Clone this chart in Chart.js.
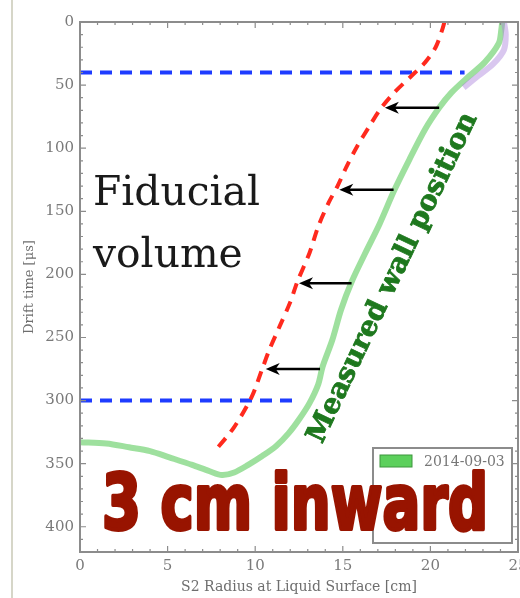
<!DOCTYPE html>
<html>
<head>
<meta charset="utf-8">
<script src="https://cdn.jsdelivr.net/npm/chart.js@4.4.0/dist/chart.umd.min.js"></script>
<style>
  html, body { margin: 0; padding: 0; background: #fff; overflow: hidden; }
  #wrap { position: relative; width: 520px; height: 598px; overflow: hidden; }
  #wrap canvas { position: absolute; left: 0; top: 0; }
  #edge { position: absolute; left: 11px; top: 0; width: 2px; height: 598px; background: #d6d6c8; }
</style>
</head>
<body>
<div id="wrap">
  <canvas id="chart" width="545" height="598"></canvas>
  <div id="edge"></div>
</div>
<script>
// Measured wall position (green band): S2 radius [cm] vs drift time [us]
const wallRadius = [0.0, 1.5, 2.8, 4.0, 5.1, 6.4, 7.4, 8.1, 8.8, 9.6, 10.4, 11.2, 11.9, 12.5, 13.1, 13.6, 13.85, 14.4, 14.9, 15.5, 16.25, 17.1, 17.95, 18.8, 19.7, 20.5, 21.2, 22.2, 23.1, 23.9, 24.05, 24.1];
const wallTime = [333, 334, 337, 340, 345, 351, 356, 359, 357, 351, 344, 336, 326, 315, 302, 287, 273, 252, 228, 206, 184, 160, 133, 109, 85, 68, 56, 43, 32, 17, 6, 0];

// other overlaid runs near the top of the wall (purple smear)
const otherRadius = [24.2, 24.3, 24.2, 23.6, 22.7, 21.9];
const otherTime = [0, 10, 22, 33, 43, 52];

// fiducial boundary, 3 cm inward of the wall (red dashed)
const fidRadius = [20.8, 20.7, 20.3, 19.7, 18.9, 18.0, 17.2, 16.5, 15.8, 15.2, 14.7, 14.2, 13.6, 13.1, 12.4, 12.0, 11.4, 10.8, 10.4, 9.8, 8.8, 7.7];
const fidTime = [0, 5, 20, 32, 43, 55, 68, 83, 99, 115, 130, 143, 162, 183, 206, 222, 241, 260, 275, 297, 321, 340];

// drift time cuts (blue dashed)
const cutTopRadius = [0, 21.95];
const cutTopTime = [40, 40];
const cutBottomRadius = [0, 12.5];
const cutBottomTime = [300, 300];

// arrows from wall to fiducial boundary
const arrowTime = [68, 133, 207, 275];
const arrowFrom = [20.5, 17.9, 15.5, 13.7];
const arrowTo = [17.4, 14.8, 12.5, 10.6];

const legendLabel = '2014-09-03';
const tickColor = '#7a7a7a';
const serif = "'DejaVu Serif', serif";

function toPoints(xs, ys) {
  return xs.map((x, i) => ({ x: x, y: ys[i] }));
}

function fitSize(ctx, text, weight, family, width) {
  ctx.font = `${weight} 100px ${family}`;
  return 100 * width / ctx.measureText(text).width;
}

// Frame, inward ticks, arrows, legend and annotations
const overlay = {
  id: 'overlay',
  afterDatasetsDraw(chart) {
    const ctx = chart.ctx;
    const xs = chart.scales.x;
    const ys = chart.scales.y;
    const a = chart.chartArea;
    ctx.save();

    // arrows
    ctx.strokeStyle = '#000';
    ctx.fillStyle = '#000';
    ctx.lineWidth = 2.5;
    arrowTime.forEach((t, i) => {
      const py = ys.getPixelForValue(t);
      const x0 = xs.getPixelForValue(arrowFrom[i]);
      const x1 = xs.getPixelForValue(arrowTo[i]);
      ctx.beginPath();
      ctx.moveTo(x0, py);
      ctx.lineTo(x1 + 8, py);
      ctx.stroke();
      ctx.beginPath();
      ctx.moveTo(x1, py);
      ctx.lineTo(x1 + 14, py - 6);
      ctx.lineTo(x1 + 10, py);
      ctx.lineTo(x1 + 14, py + 6);
      ctx.closePath();
      ctx.fill();
    });

    // frame
    ctx.strokeStyle = '#8c8c8c';
    ctx.lineWidth = 2;
    ctx.strokeRect(a.left, a.top, a.right - a.left, a.bottom - a.top);
    ctx.lineWidth = 1.2;
    ctx.beginPath();
    for (let v = 0; v <= 25; v++) {
      const px = xs.getPixelForValue(v);
      const len = v % 5 === 0 ? 6 : 3;
      ctx.moveTo(px, a.top); ctx.lineTo(px, a.top + len);
      ctx.moveTo(px, a.bottom); ctx.lineTo(px, a.bottom - len);
    }
    for (let v = 0; v <= 420; v += 10) {
      const py = ys.getPixelForValue(v);
      const len = v % 50 === 0 ? 6 : 3;
      ctx.moveTo(a.left, py); ctx.lineTo(a.left + len, py);
      ctx.moveTo(a.right, py); ctx.lineTo(a.right - len, py);
    }
    ctx.stroke();

    // Fiducial volume
    ctx.fillStyle = '#1a1a1a';
    ctx.textBaseline = 'alphabetic';
    ctx.textAlign = 'left';
    const fs = fitSize(ctx, 'Fiducial', 'normal', serif, 167);
    ctx.font = `normal ${fs}px ${serif}`;
    ctx.fillText('Fiducial', 93, 205);
    ctx.fillText('volume', 93, 267);

    // Measured wall position
    ctx.save();
    ctx.translate(393, 278);
    ctx.rotate(-64.6 * Math.PI / 180);
    const ms = fitSize(ctx, 'Measured wall position', 'bold', serif, 362);
    ctx.font = `bold ${ms}px ${serif}`;
    ctx.fillStyle = '#1e781e';
    ctx.strokeStyle = '#1e781e';
    ctx.lineWidth = 0.8;
    ctx.textAlign = 'center';
    ctx.textBaseline = 'middle';
    ctx.fillText('Measured wall position', 0, 0);
    ctx.strokeText('Measured wall position', 0, 0);
    ctx.restore();

    // legend box
    ctx.fillStyle = '#fff';
    ctx.fillRect(373, 448, 139, 95);
    ctx.strokeStyle = '#8c8c8c';
    ctx.lineWidth = 2;
    ctx.strokeRect(373, 448, 139, 95);
    ctx.fillStyle = '#5cd05c';
    ctx.fillRect(380, 455, 32, 12);
    ctx.strokeStyle = '#3c963c';
    ctx.lineWidth = 1;
    ctx.strokeRect(380, 455, 32, 12);
    ctx.fillStyle = '#777';
    ctx.font = `14px ${serif}`;
    ctx.textAlign = 'left';
    ctx.textBaseline = 'middle';
    ctx.fillText(legendLabel, 424, 462);

    // 3 cm inward
    ctx.save();
    ctx.font = `bold 76px 'DejaVu Sans', sans-serif`;
    const w = ctx.measureText('3 cm inward').width;
    ctx.translate(102, 529);
    ctx.scale(386 / w, 1);
    ctx.fillStyle = '#981400';
    ctx.strokeStyle = '#981400';
    ctx.lineWidth = 4;
    ctx.lineJoin = 'round';
    ctx.textAlign = 'left';
    ctx.textBaseline = 'alphabetic';
    ctx.fillText('3 cm inward', 0, 0);
    ctx.strokeText('3 cm inward', 0, 0);
    ctx.restore();

    ctx.restore();
  }
};

const noPoints = { pointRadius: 0, pointHoverRadius: 0, fill: false };

new Chart(document.getElementById('chart'), {
  type: 'line',
  data: {
    datasets: [
      { label: 'other', data: toPoints(otherRadius, otherTime), borderColor: 'rgba(170, 130, 220, 0.45)', borderWidth: 6, tension: 0.3, ...noPoints },
      { label: legendLabel, data: toPoints(wallRadius, wallTime), borderColor: 'rgba(125, 214, 125, 0.75)', borderWidth: 6, tension: 0.3, ...noPoints },
      { label: 'fiducial', data: toPoints(fidRadius, fidTime), borderColor: '#ff2a1e', borderWidth: 4, borderDash: [11, 8], tension: 0.3, ...noPoints },
      { label: 'cut top', data: toPoints(cutTopRadius, cutTopTime), borderColor: '#1e3cff', borderWidth: 4, borderDash: [12, 8], ...noPoints },
      { label: 'cut bottom', data: toPoints(cutBottomRadius, cutBottomTime), borderColor: '#1e3cff', borderWidth: 4, borderDash: [12, 8], ...noPoints }
    ]
  },
  options: {
    responsive: false,
    animation: false,
    layout: { padding: { top: 22, right: 27, left: 0, bottom: 0 } },
    plugins: {
      legend: { display: false },
      tooltip: { enabled: false }
    },
    scales: {
      x: {
        type: 'linear',
        min: 0,
        max: 25,
        grid: { display: false, drawTicks: false },
        border: { display: false },
        ticks: {
          stepSize: 5,
          padding: 5,
          maxRotation: 0,
          color: tickColor,
          font: { size: 15, family: serif }
        },
        title: {
          display: true,
          text: 'S2 Radius at Liquid Surface [cm]',
          color: '#6e6e6e',
          font: { size: 14, family: serif },
          padding: { top: 0, bottom: 2 }
        },
        afterFit: (scale) => { scale.height = 46; }
      },
      y: {
        type: 'linear',
        reverse: true,
        min: 0,
        max: 420,
        grid: { display: false, drawTicks: false },
        border: { display: false },
        ticks: {
          stepSize: 50,
          includeBounds: false,
          padding: 6,
          color: tickColor,
          font: { size: 15, family: serif }
        },
        title: {
          display: true,
          text: 'Drift time [μs]',
          color: '#6e6e6e',
          font: { size: 13, family: serif },
          padding: { top: 22, bottom: 0 }
        },
        afterFit: (scale) => { scale.width = 80; }
      }
    }
  },
  plugins: [overlay]
});
</script>
</body>
</html>
